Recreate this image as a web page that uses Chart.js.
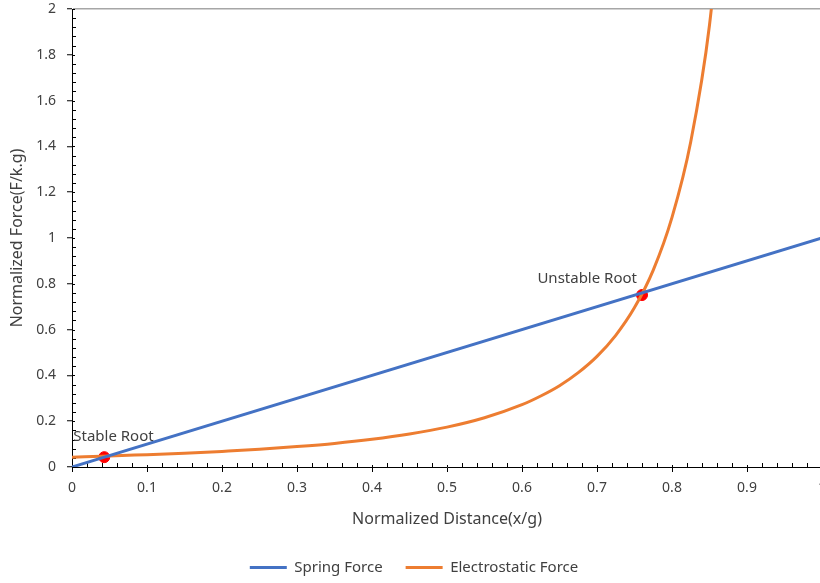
<!DOCTYPE html>
<html>
<head>
<meta charset="utf-8">
<script src="https://cdn.jsdelivr.net/npm/chart.js@4.4.1/dist/chart.umd.min.js"></script>
<style>
  html, body { margin: 0; padding: 0; background: #fff; overflow: hidden; }
  #wrap { width: 830px; height: 583px; }
</style>
</head>
<body>
<div id="wrap"><canvas id="forceChart" width="830" height="583"></canvas></div>
<script>
// spring force: straight line F = x
const springX = [0, 1];
const springY = [0, 1];

// electrostatic force (last point lies above the plot top)
const elecX = [0, 0.05, 0.1, 0.15, 0.2, 0.25, 0.3, 0.35, 0.4, 0.45, 0.5, 0.55, 0.6,
  0.625, 0.65, 0.675, 0.7, 0.725, 0.75, 0.775, 0.8, 0.825, 0.85, 0.875];
const elecY = [0.043, 0.048, 0.054, 0.06, 0.068, 0.077, 0.089, 0.103, 0.121, 0.144, 0.174, 0.215, 0.272,
  0.31, 0.355, 0.412, 0.483, 0.575, 0.696, 0.86, 1.09, 1.42, 1.93, 2.78];

// equilibrium points
const rootNames = ['Stable Root', 'Unstable Root'];
const rootX = [0.043, 0.76];
const rootY = [0.043, 0.751];

const FONT = '"Noto Sans", "Open Sans", sans-serif';
const TEXT = '#404040';
const BLUE = '#4472C4';
const ORANGE = '#ED7D31';

const toPoints = (xs, ys) => xs.map((x, i) => ({ x: x, y: ys[i] }));

// small inner tick marks, like a spreadsheet axis
const minorTicks = {
  id: 'minorTicks',
  beforeDatasetsDraw(chart) {
    const { ctx, chartArea, scales } = chart;
    ctx.save();
    ctx.strokeStyle = '#000';
    ctx.lineWidth = 1;
    ctx.beginPath();
    for (let i = 0; i <= 50; i++) {
      const px = Math.round(scales.x.getPixelForValue(i * 0.02)) + 0.5;
      const len = i % 5 === 0 ? 2 : 4;
      ctx.moveTo(px, chartArea.bottom);
      ctx.lineTo(px, chartArea.bottom - len);
    }
    for (let i = 0; i <= 50; i++) {
      const py = Math.round(scales.y.getPixelForValue(i * 0.04)) + 0.5;
      const len = i % 5 === 0 ? 3 : 4;
      ctx.moveTo(chartArea.left, py);
      ctx.lineTo(chartArea.left + len, py);
    }
    ctx.stroke();
    ctx.restore();
  }
};

// labels next to the two red dots
const rootLabels = {
  id: 'rootLabels',
  afterDatasetsDraw(chart) {
    const meta = chart.getDatasetMeta(2);
    const { ctx } = chart;
    const place = [
      { align: 'left', dx: -31, dy: -20 },
      { align: 'right', dx: -5, dy: -16 }
    ];
    ctx.save();
    ctx.font = '15px ' + FONT;
    ctx.fillStyle = TEXT;
    ctx.textBaseline = 'middle';
    meta.data.forEach((pt, i) => {
      ctx.textAlign = place[i].align;
      ctx.fillText(rootNames[i], pt.x + place[i].dx, pt.y + place[i].dy);
    });
    ctx.restore();
  }
};

// nudge the legend a little lower and to the right
const legendShift = {
  id: 'legendShift',
  afterLayout(chart) {
    if (chart.legend) {
      chart.legend.top += 2;
      chart.legend.bottom += 2;
      chart.legend.left += 3;
      chart.legend.right += 3;
    }
  }
};

new Chart(document.getElementById('forceChart'), {
  type: 'scatter',
  data: {
    datasets: [
      {
        label: 'Spring Force',
        data: toPoints(springX, springY),
        showLine: true,
        borderColor: BLUE,
        backgroundColor: BLUE,
        borderWidth: 3,
        pointRadius: 0
      },
      {
        label: 'Electrostatic Force',
        data: toPoints(elecX, elecY),
        showLine: true,
        cubicInterpolationMode: 'monotone',
        borderColor: ORANGE,
        backgroundColor: ORANGE,
        borderWidth: 3,
        pointRadius: 0
      },
      {
        label: 'Roots',
        data: toPoints(rootX, rootY),
        showLine: false,
        pointRadius: 5.5,
        pointBackgroundColor: '#FF0000',
        pointBorderColor: '#FF0000',
        pointBorderWidth: 1
      }
    ]
  },
  options: {
    responsive: false,
    animation: false,
    layout: { padding: { left: 0, right: 8, top: 9, bottom: 0 } },
    scales: {
      x: {
        type: 'linear',
        min: 0,
        max: 1,
        afterFit(scale) {
          scale.height = 68;
          scale.paddingLeft = 0;
          scale.paddingRight = 0;
        },
        border: { color: '#000', width: 1 },
        grid: { drawOnChartArea: false, tickLength: 5, tickColor: '#000' },
        ticks: {
          stepSize: 0.1,
          autoSkip: false,
          padding: 8,
          color: TEXT,
          font: { family: FONT, size: 14 },
          maxRotation: 0,
          callback: v => Math.round(v * 10) / 10
        },
        title: {
          display: true,
          text: 'Normalized Distance(x/g)',
          color: TEXT,
          font: { family: FONT, size: 16 },
          padding: { top: 0, bottom: 6 }
        }
      },
      y: {
        min: 0,
        max: 2,
        afterFit(scale) {
          scale.width = 72;
          scale.paddingTop = 0;
          scale.paddingBottom = 0;
        },
        border: { color: '#000', width: 1 },
        grid: {
          color: c => (c.tick && c.tick.value === 2 ? '#A6A6A6' : 'rgba(0,0,0,0)'),
          lineWidth: 1.5,
          tickLength: 5,
          tickColor: '#000',
          tickWidth: 1
        },
        ticks: {
          stepSize: 0.2,
          padding: 11,
          color: TEXT,
          font: { family: FONT, size: 14 },
          callback: v => Math.round(v * 10) / 10
        },
        title: {
          display: true,
          text: 'Normalized Force(F/k.g)',
          color: TEXT,
          font: { family: FONT, size: 16 },
          padding: { top: 8, bottom: 0 }
        }
      }
    },
    plugins: {
      legend: {
        position: 'bottom',
        labels: {
          boxWidth: 37,
          boxHeight: 3,
          padding: 23,
          color: TEXT,
          font: { family: FONT, size: 15 },
          filter: item => item.datasetIndex < 2,
          generateLabels(chart) {
            const items = Chart.defaults.plugins.legend.labels.generateLabels(chart);
            items.forEach(it => { it.lineWidth = 0; });
            return items;
          }
        }
      },
      tooltip: { enabled: false }
    }
  },
  plugins: [minorTicks, rootLabels, legendShift]
});
</script>
</body>
</html>
